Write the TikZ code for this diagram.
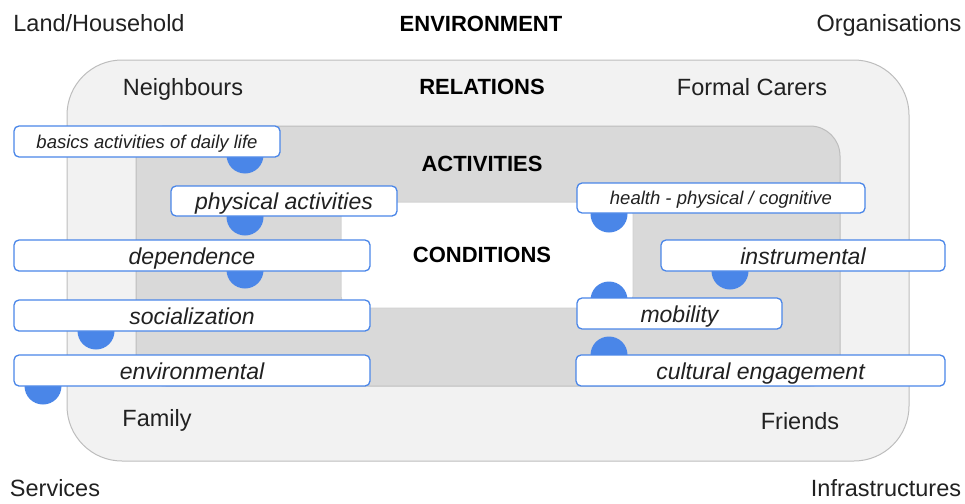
\documentclass[tikz,border=0pt]{standalone}
\usepackage{fontspec}
\setmainfont{Liberation Sans}
\usepackage{tikz}
\usetikzlibrary{positioning, shapes, calc}
\definecolor{googleblue}{HTML}{4A86E8}
\definecolor{relgray}{HTML}{F2F2F2}
\definecolor{actgray}{HTML}{D9D9D9}
\definecolor{edgegray}{HTML}{BDBDBD}
\definecolor{inkgray}{HTML}{212121}
\tikzstyle{plain}=[text=inkgray, font=\fontsize{23.5}{27}\selectfont, inner sep=0pt, anchor=base]
\tikzstyle{heading}=[text=black, font=\fontsize{22}{26}\selectfont\bfseries, inner sep=0pt]
\tikzstyle{factor}=[rectangle, rounded corners=5pt, draw=googleblue, line width=1.3pt,
  fill=white, text=inkgray, inner sep=0pt, text height=19pt, text depth=2pt,
  font=\fontsize{23}{27}\selectfont\itshape]
\tikzstyle{smallfactor}=[factor, text height=15pt, text depth=2pt,
  font=\fontsize{18.5}{22}\selectfont\itshape]
\tikzstyle{dot}=[circle, fill=googleblue, minimum size=37pt, inner sep=0pt]

\begin{document}
\begin{tikzpicture}[x=1pt, y=-1pt]
    \useasboundingbox (0,0) rectangle (965,503);
    	% Layers
    	\draw[edgegray, fill=relgray, line width=1pt, rounded corners=55pt] (67,60) rectangle (909,461);
    	\draw[edgegray, fill=actgray, line width=1pt, rounded corners=30pt] (136,126) rectangle (840,386);
    	\draw[edgegray!70, fill=white, line width=1pt, rounded corners=12pt] (341,202) rectangle (633,308);

    	% Layer names
    	\node[plain] (household) at (99,32) {Land/Household};
    	\node[heading] (environment) at (481,24) {ENVIRONMENT};
    	\node[plain] (organisations) at (889,32) {Organisations};
    	\node[plain] (neighbours) at (183,95) {Neighbours};
    	\node[heading] (relations) at (482,87) {RELATIONS};
    	\node[plain] (carers) at (752,95) {Formal Carers};
    	\node[heading] (activities) at (482,164) {ACTIVITIES};
    	\node[heading] (conditions) at (482,255) {CONDITIONS};
    	\node[plain] (family) at (157,426) {Family};
    	\node[plain] (friends) at (800,429) {Friends};
    	\node[plain] (services) at (55,496) {Services};
    	\node[plain] (infrastructures) at (886,496) {Infrastructures};

    	% Dots
    	\node[dot] (basicsdot) at (245,155) {};
    	\node[dot] (physicaldot) at (245,217) {};
    	\node[dot] (dependencedot) at (245,270) {};
    	\node[dot] (socialdot) at (96,331) {};
    	\node[dot] (envdot) at (43,386) {};
    	\node[dot] (healthdot) at (609,214) {};
    	\node[dot] (instrumentaldot) at (730,271) {};
    	\node[dot] (mobilitydot) at (609,300) {};
    	\node[dot] (culturaldot) at (609,355) {};

    	% Factors
    	\node[smallfactor, minimum width=266pt, minimum height=31pt] (basics) at (147,141.5) {basics activities of daily life};
    	\node[factor, minimum width=226pt, minimum height=30pt] (physical) at (284,201) {physical activities};
    	\node[factor, minimum width=356pt, minimum height=31pt] (dependence) at (192,255.5) {dependence};
    	\node[factor, minimum width=356pt, minimum height=31pt] (socialization) at (192,315.5) {socialization};
    	\node[factor, minimum width=356pt, minimum height=31pt] (environmental) at (192,370.5) {environmental};
    	\node[smallfactor, minimum width=288pt, minimum height=30pt] (health) at (721,198) {health - physical / cognitive};
    	\node[factor, minimum width=284pt, minimum height=31pt] (instrumental) at (803,255.5) {instrumental};
    	\node[factor, minimum width=205pt, minimum height=31pt] (mobility) at (679.5,313.5) {mobility};
    	\node[factor, minimum width=369pt, minimum height=31pt] (cultural) at (760.5,370.5) {cultural engagement};
    \end{tikzpicture}
\end{document}
